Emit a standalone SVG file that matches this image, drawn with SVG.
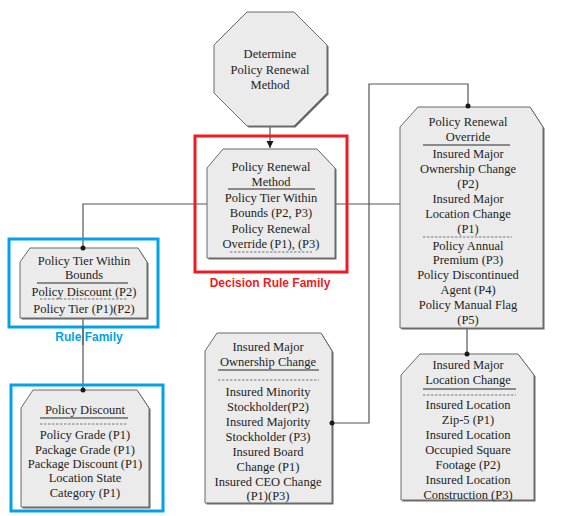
<svg xmlns="http://www.w3.org/2000/svg" width="563" height="516" viewBox="0 0 563 516">
<defs>
<style>
.node{fill:#ebebeb;stroke:#6a6a6a;stroke-width:1}
.shadow{fill:#6a6a6a}
.t{font-family:"Liberation Serif","Times New Roman",serif;font-size:12.5px;fill:#1e1e1e;text-anchor:middle}
.sep{stroke:#6a6a6a;stroke-width:1.6}
.dash{stroke:#777;stroke-width:1;stroke-dasharray:2.5,1.5}
.conn{fill:none;stroke:#555;stroke-width:1.2}
.dot{fill:#1a1a1a}
.lbl{font-family:"Liberation Sans",Arial,sans-serif;font-weight:bold;font-size:12px;text-anchor:middle}
</style>
<marker id="arr" viewBox="0 0 10 10" refX="10" refY="5" markerWidth="6" markerHeight="6" orient="auto">
<path d="M0,0 L10,5 L0,10 Z" fill="#1a1a1a"/>
</marker>
</defs>
<rect width="563" height="516" fill="#fff"/>

<g id="connectors">
<line class="conn" x1="270" y1="126" x2="270" y2="148" marker-end="url(#arr)"/>
<path class="conn" d="M400,204 H83 V248"/>
<path class="conn" d="M83,318 V390"/>
<path class="conn" d="M332,423 H369 V84 H468 V106" stroke="#888"/>
<path class="conn" d="M467,328 V354"/>
</g>

<g id="node-determine">
<path class="shadow" transform="translate(1.5,1.5)" d="M247,12 L294,12 L327,45 L327,93 L294,126 L247,126 L214,93 L214,45 Z"/>
<path class="node" d="M247,12 L294,12 L327,45 L327,93 L294,126 L247,126 L214,93 L214,45 Z"/>
<text class="t" x="270" y="58">Determine</text>
<text class="t" x="270" y="74">Policy Renewal</text>
<text class="t" x="270" y="89">Method</text>
</g>

<g id="node-decision">
<path class="shadow" transform="translate(1.5,1.5)" d="M223,149 L317,149 L335,168 L335,258 L207,258 L207,168 Z"/>
<path class="node" d="M223,149 L317,149 L335,168 L335,258 L207,258 L207,168 Z"/>
<text class="t" x="271" y="171">Policy Renewal</text>
<text class="t" x="271" y="186">Method</text>
<line class="sep" x1="228" y1="189" x2="315" y2="189"/>
<text class="t" x="271" y="202">Policy Tier Within</text>
<text class="t" x="271" y="217">Bounds (P2, P3)</text>
<text class="t" x="271" y="233">Policy Renewal</text>
<text class="t" x="271" y="248">Override (P1), (P3)</text>
<line class="dash" x1="230" y1="252" x2="312" y2="252"/>
</g>
<g id="decision-family">
<rect x="195" y="136" width="152" height="136" fill="none" stroke="#ed1c24" stroke-width="3"/>
<text class="lbl" x="270" y="287" fill="#ed1c24">Decision Rule Family</text>
</g>

<g id="node-tier">
<path class="shadow" transform="translate(1.5,1.5)" d="M30,248 L138,248 L147,262 L147,318 L20,318 L20,262 Z"/>
<path class="node" d="M30,248 L138,248 L147,262 L147,318 L20,318 L20,262 Z"/>
<text class="t" x="84" y="265">Policy Tier Within</text>
<text class="t" x="84" y="279">Bounds</text>
<line class="sep" x1="37" y1="283" x2="128" y2="283"/>
<text class="t" x="84" y="296">Policy Discount (P2)</text>
<line class="dash" x1="40" y1="299" x2="128" y2="299"/>
<text class="t" x="84" y="313">Policy Tier (P1)(P2)</text>
</g>
<g id="rule-family">
<rect x="9" y="239" width="149" height="88" fill="none" stroke="#00a2e8" stroke-width="3"/>
<text class="lbl" x="89" y="341" fill="#00a2e8">Rule Family</text>
</g>
<line x1="83" y1="327" x2="83" y2="345" stroke="#555" stroke-width="1.2"/>

<g id="node-discount">
<path class="shadow" transform="translate(1.5,1.5)" d="M33,390 L137,390 L149,408 L149,507 L21,507 L21,408 Z"/>
<path class="node" d="M33,390 L137,390 L149,408 L149,507 L21,507 L21,408 Z"/>
<text class="t" x="85" y="414">Policy Discount</text>
<line class="sep" x1="40" y1="418" x2="128" y2="418"/>
<line class="dash" x1="40" y1="424" x2="128" y2="424"/>
<text class="t" x="85" y="439">Policy Grade (P1)</text>
<text class="t" x="85" y="454">Package Grade (P1)</text>
<text class="t" x="85" y="468">Package Discount (P1)</text>
<text class="t" x="85" y="482">Location State</text>
<text class="t" x="85" y="497">Category (P1)</text>
</g>
<rect x="11" y="385" width="152" height="126" fill="none" stroke="#00a2e8" stroke-width="3"/>

<g id="node-ownership">
<path class="shadow" transform="translate(1.5,1.5)" d="M217,333 L321,333 L332,351 L332,503 L205,503 L205,351 Z"/>
<path class="node" d="M217,333 L321,333 L332,351 L332,503 L205,503 L205,351 Z"/>
<text class="t" x="268" y="351">Insured Major</text>
<text class="t" x="268" y="366">Ownership Change</text>
<line class="sep" x1="218" y1="370" x2="319" y2="370"/>
<line class="dash" x1="218" y1="380" x2="319" y2="380"/>
<text class="t" x="268" y="396">Insured Minority</text>
<text class="t" x="268" y="411">Stockholder(P2)</text>
<text class="t" x="268" y="426">Insured Majority</text>
<text class="t" x="268" y="441">Stockholder (P3)</text>
<text class="t" x="268" y="456">Insured Board</text>
<text class="t" x="268" y="471">Change (P1)</text>
<text class="t" x="268" y="486">Insured CEO Change</text>
<text class="t" x="268" y="500">(P1)(P3)</text>
</g>

<g id="node-override">
<path class="shadow" transform="translate(1.5,1.5)" d="M418,107 L530,107 L543,127 L543,328 L400,328 L400,127 Z"/>
<path class="node" d="M418,107 L530,107 L543,127 L543,328 L400,328 L400,127 Z"/>
<text class="t" x="468" y="126">Policy Renewal</text>
<text class="t" x="468" y="141">Override</text>
<line class="sep" x1="423" y1="145" x2="510" y2="145"/>
<text class="t" x="468" y="158">Insured Major</text>
<text class="t" x="468" y="173">Ownership Change</text>
<text class="t" x="468" y="188">(P2)</text>
<text class="t" x="468" y="203">Insured Major</text>
<text class="t" x="468" y="218">Location Change</text>
<text class="t" x="468" y="233">(P1)</text>
<line class="dash" x1="423" y1="237" x2="512" y2="237"/>
<text class="t" x="468" y="250">Policy Annual</text>
<text class="t" x="468" y="264">Premium (P3)</text>
<text class="t" x="468" y="279">Policy Discontinued</text>
<text class="t" x="468" y="294">Agent (P4)</text>
<text class="t" x="468" y="309">Policy Manual Flag</text>
<text class="t" x="468" y="324">(P5)</text>
</g>

<g id="node-location">
<path class="shadow" transform="translate(1.5,1.5)" d="M420,354 L518,354 L534,375 L534,500 L401,500 L401,375 Z"/>
<path class="node" d="M420,354 L518,354 L534,375 L534,500 L401,500 L401,375 Z"/>
<text class="t" x="468" y="369">Insured Major</text>
<text class="t" x="468" y="384">Location Change</text>
<line class="sep" x1="423" y1="389" x2="516" y2="389"/>
<line class="dash" x1="423" y1="395" x2="516" y2="395"/>
<text class="t" x="468" y="409">Insured Location</text>
<text class="t" x="468" y="424">Zip-5 (P1)</text>
<text class="t" x="468" y="439">Insured Location</text>
<text class="t" x="468" y="454">Occupied Square</text>
<text class="t" x="468" y="469">Footage (P2)</text>
<text class="t" x="468" y="484">Insured Location</text>
<text class="t" x="468" y="499">Construction (P3)</text>
</g>

<g id="dots">
<circle class="dot" cx="83" cy="248" r="2.5"/>
<circle class="dot" cx="83" cy="390" r="2.5"/>
<circle class="dot" cx="332" cy="423" r="2.5"/>
<circle class="dot" cx="468" cy="106" r="2.5"/>
<circle class="dot" cx="467" cy="354" r="2.5"/>
</g>
</svg>
